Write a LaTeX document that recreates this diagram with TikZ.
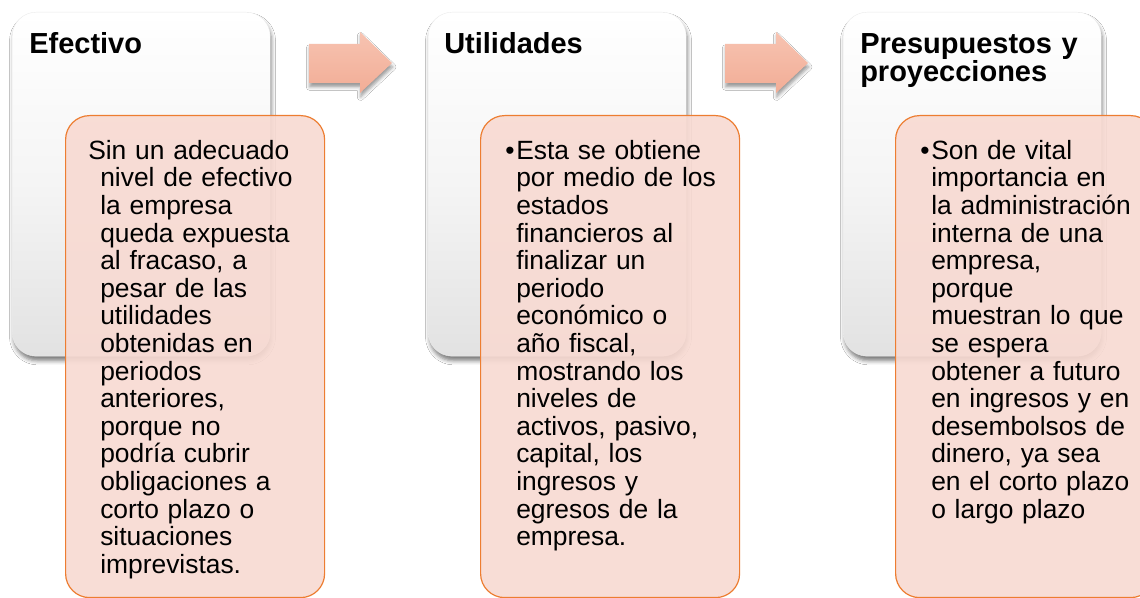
\documentclass[tikz,border=0pt]{standalone}
\usepackage{fontspec}
\setmainfont{Liberation Sans}
\usetikzlibrary{shadows.blur}
\definecolor{orfill}{HTML}{F8DAD2}
\definecolor{orline}{HTML}{ED7D31}
\definecolor{artop}{HTML}{F7C3B1}
\definecolor{arbot}{HTML}{F2AD96}
\definecolor{wbot}{HTML}{E2E2E2}
\begin{document}
\begin{tikzpicture}[x=0.75pt,y=-0.75pt,
  whitebox/.style={rectangle, anchor=north west, rounded corners=18pt,
    minimum width=193.5pt, minimum height=258pt, inner sep=0pt,
    top color=white, bottom color=wbot, middle color=white!96!black, draw=black!8, line width=0.3pt,
    blur shadow={shadow xshift=1pt, shadow yshift=-3.5pt, shadow blur radius=3pt, shadow opacity=50}},
  orangebox/.style={rectangle, anchor=north west, rounded corners=18pt,
    minimum width=194.25pt, minimum height=361.5pt, inner sep=0pt,
    fill=orfill, fill opacity=0.9, draw=orline, draw opacity=1, line width=0.9pt},
  titletext/.style={anchor=north west, inner sep=0pt, align=left, text width=200pt,
    font=\bfseries\fontsize{21.75pt}{20.25pt}\selectfont},
  bodytext/.style={anchor=north west, inner sep=0pt, align=left, text width=220pt,
    font=\fontsize{19.8pt}{20.7pt}\selectfont},
  arrowshape/.style={top color=artop, bottom color=arbot, draw=none,
    blur shadow={shadow xshift=0.5pt, shadow yshift=-3pt, shadow blur radius=2.5pt, shadow opacity=40}}
]
\useasboundingbox (0,0) rectangle (1140,598);
\fill[white] (0,0) rectangle (1140,598);

% white boxes
\node[whitebox] (w1) at (12,12) {};
\node[whitebox] (w2) at (428,12) {};
\node[whitebox] (w3) at (843,12) {};

% arrows
\path[arrowshape] (309,44) -- (360,44) -- (360,32) -- (392,63) -- (360,93) -- (360,83) -- (309,83) -- cycle;
\path[arrowshape] (725,44) -- (776,44) -- (776,32) -- (808,63) -- (776,93) -- (776,83) -- (725,83) -- cycle;

% orange boxes
\node[orangebox] (o1) at (65,115) {};
\node[orangebox] (o2) at (480,115) {};
\node[orangebox] (o3) at (895,115) {};

% titles
\node[titletext] (t1) at (29,30.3) {\rule{0pt}{17pt}Efectivo};
\node[titletext] (t2) at (444,30.3) {\rule{0pt}{17pt}Utilidades};
\node[titletext] (t3) at (860,30.3) {\rule{0pt}{17pt}Presupuestos y\\proyecciones};

% bodies
\node[bodytext] (b1) at (100,137.7) {\leavevmode\rule{0pt}{16pt}\kern-9pt Sin un adecuado\\
nivel de efectivo\\
la empresa\\
queda expuesta\\
al fracaso, a\\
pesar de las\\
utilidades\\
obtenidas en\\
periodos\\
anteriores,\\
porque no\\
podría cubrir\\
obligaciones a\\
corto plazo o\\
situaciones\\
imprevistas.};

\node[bodytext] (b2) at (516,137.7) {\leavevmode\rule{0pt}{16pt}\llap{•\hspace{1.3pt}}Esta se obtiene\\
por medio de los\\
estados\\
financieros al\\
finalizar un\\
periodo\\
económico o\\
año fiscal,\\
mostrando los\\
niveles de\\
activos, pasivo,\\
capital, los\\
ingresos y\\
egresos de la\\
empresa.};

\node[bodytext] (b3) at (931,137.7) {\leavevmode\rule{0pt}{16pt}\llap{•\hspace{1.3pt}}Son de vital\\
importancia en\\
la administración\\
interna de una\\
empresa,\\
porque\\
muestran lo que\\
se espera\\
obtener a futuro\\
en ingresos y en\\
desembolsos de\\
dinero, ya sea\\
en el corto plazo\\
o largo plazo};
\end{tikzpicture}
\end{document}
